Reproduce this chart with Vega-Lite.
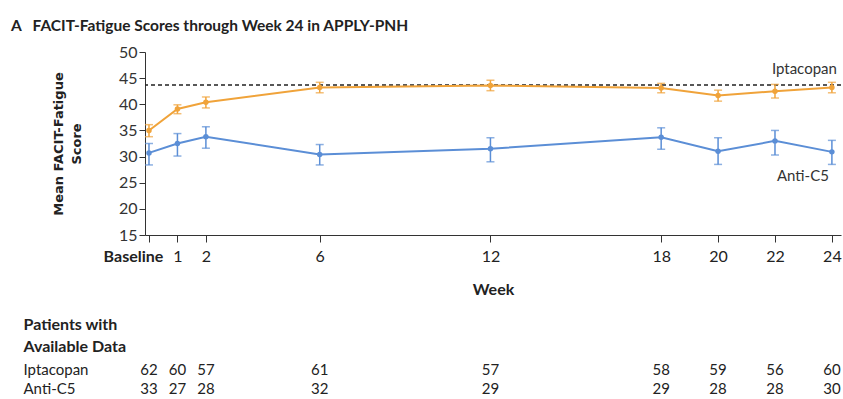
{
  "$schema": "https://vega.github.io/schema/vega-lite/v6.json",
  "autosize": {"type": "pad"},
  "padding": {"left": 11, "top": 18, "right": 0, "bottom": 0},
  "background": "white",
  "title": {"text": "A\u00a0\u00a0\u00a0FACIT-Fatigue Scores through Week 24 in APPLY-PNH", "anchor": "start", "frame": "bounds", "dx": -12, "fontSize": 15.5, "fontWeight": "bold", "font": "Lato", "color": "#222", "offset": 10},
  "config": {
    "view": {"stroke": null},
    "font": "Lato",
    "axisY": {
      "grid": false,
      "titleFont": "DejaVu Sans",
      "titleFontWeight": "bold",
      "titleFontSize": 13,
      "titleColor": "#222",
      "titlePadding": 35,
      "titleLineHeight": 18,
      "labelFontSize": 16,
      "labelColor": "#333",
      "labelPadding": 2,
      "tickSize": 6,
      "tickColor": "#333",
      "domainColor": "#333",
      "labelFlush": false,
      "labelOverlap": false
    }
  },
  "datasets": {
    "scores": [
      {"group": "Iptacopan", "week": 0, "mean": 35.0, "lo": 33.8, "hi": 36.1},
      {"group": "Iptacopan", "week": 1, "mean": 39.1, "lo": 38.2, "hi": 39.9},
      {"group": "Iptacopan", "week": 2, "mean": 40.4, "lo": 39.3, "hi": 41.4},
      {"group": "Iptacopan", "week": 6, "mean": 43.2, "lo": 42.2, "hi": 44.2},
      {"group": "Iptacopan", "week": 12, "mean": 43.6, "lo": 42.6, "hi": 44.6},
      {"group": "Iptacopan", "week": 18, "mean": 43.1, "lo": 42.2, "hi": 44.0},
      {"group": "Iptacopan", "week": 20, "mean": 41.7, "lo": 40.6, "hi": 42.7},
      {"group": "Iptacopan", "week": 22, "mean": 42.5, "lo": 41.2, "hi": 43.8},
      {"group": "Iptacopan", "week": 24, "mean": 43.2, "lo": 42.2, "hi": 44.2},
      {"group": "Anti-C5", "week": 0, "mean": 30.7, "lo": 28.4, "hi": 32.5},
      {"group": "Anti-C5", "week": 1, "mean": 32.5, "lo": 30.1, "hi": 34.4},
      {"group": "Anti-C5", "week": 2, "mean": 33.8, "lo": 31.6, "hi": 35.7},
      {"group": "Anti-C5", "week": 6, "mean": 30.4, "lo": 28.4, "hi": 32.3},
      {"group": "Anti-C5", "week": 12, "mean": 31.5, "lo": 29.0, "hi": 33.6},
      {"group": "Anti-C5", "week": 18, "mean": 33.7, "lo": 31.4, "hi": 35.5},
      {"group": "Anti-C5", "week": 20, "mean": 31.0, "lo": 28.5, "hi": 33.6},
      {"group": "Anti-C5", "week": 22, "mean": 33.0, "lo": 30.3, "hi": 35.0},
      {"group": "Anti-C5", "week": 24, "mean": 30.9, "lo": 28.5, "hi": 33.1}
    ],
    "counts": [
      {"group": "Iptacopan", "week": 0, "n": 62},
      {"group": "Iptacopan", "week": 1, "n": 60},
      {"group": "Iptacopan", "week": 2, "n": 57},
      {"group": "Iptacopan", "week": 6, "n": 61},
      {"group": "Iptacopan", "week": 12, "n": 57},
      {"group": "Iptacopan", "week": 18, "n": 58},
      {"group": "Iptacopan", "week": 20, "n": 59},
      {"group": "Iptacopan", "week": 22, "n": 56},
      {"group": "Iptacopan", "week": 24, "n": 60},
      {"group": "Anti-C5", "week": 0, "n": 33},
      {"group": "Anti-C5", "week": 1, "n": 27},
      {"group": "Anti-C5", "week": 2, "n": 28},
      {"group": "Anti-C5", "week": 6, "n": 32},
      {"group": "Anti-C5", "week": 12, "n": 29},
      {"group": "Anti-C5", "week": 18, "n": 29},
      {"group": "Anti-C5", "week": 20, "n": 28},
      {"group": "Anti-C5", "week": 22, "n": 28},
      {"group": "Anti-C5", "week": 24, "n": 30}
    ],
    "reference": [{"level": 43.7}]
  },
  "spacing": 19,
  "vconcat": [
    {
      "width": 696,
      "height": 183,
      "data": {"name": "scores"},
      "layer": [
        {
          "data": {"name": "reference"},
          "mark": {"type": "rule", "color": "#222", "strokeDash": [4, 3], "strokeWidth": 1.5},
          "encoding": {"y": {"field": "level", "type": "quantitative", "title": ["Mean FACIT-Fatigue", "Score"], "axis": {"values": [15, 20, 25, 30, 35, 40, 45, 50]}}}
        },
        {
          "mark": {"type": "errorbar", "ticks": {"size": 8, "thickness": 1.5}, "thickness": 1.5},
          "encoding": {
            "x": {"field": "week", "type": "quantitative"},
            "y": {"field": "lo", "type": "quantitative", "title": ["Mean FACIT-Fatigue", "Score"], "axis": {"values": [15, 20, 25, 30, 35, 40, 45, 50]}},
            "y2": {"field": "hi"},
            "color": {"field": "group", "type": "nominal", "legend": null, "scale": {"domain": ["Iptacopan", "Anti-C5"], "range": ["#F0A33A", "#5B8ED6"]}}
          }
        },
        {
          "mark": {"type": "line", "strokeWidth": 2, "point": {"size": 30, "filled": true}},
          "encoding": {
            "x": {
              "field": "week", "type": "quantitative",
              "scale": {"domain": [-0.14, 24.32], "nice": false, "zero": false},
              "axis": {
                "values": [0, 1, 2, 6, 12, 18, 20, 22, 24],
                "labelExpr": "datum.value == 0 ? 'Baseline' : datum.label",
                "labelFontWeight": {"condition": {"test": "datum.value == 0", "value": "bold"}, "value": "normal"},
                "labelOffset": {"condition": {"test": "datum.value == 0", "value": -16}, "value": 0},
                "grid": false,
                "title": "Week",
                "titleFontWeight": "bold",
                "titleFontSize": 16,
                "titleColor": "#222",
                "titlePadding": 17,
                "labelFontSize": 16,
                "labelColor": "#222",
                "labelPadding": 6,
                "tickSize": 7,
                "tickColor": "#333",
                "domainColor": "#333",
                "labelFlush": false,
                "labelOverlap": false
              }
            },
            "y": {
              "field": "mean", "type": "quantitative",
              "title": ["Mean FACIT-Fatigue", "Score"],
              "scale": {"domain": [15, 50], "nice": false, "zero": false},
              "axis": {"values": [15, 20, 25, 30, 35, 40, 45, 50]}
            },
            "color": {"field": "group", "type": "nominal", "legend": null, "scale": {"domain": ["Iptacopan", "Anti-C5"], "range": ["#F0A33A", "#5B8ED6"]}}
          }
        },
        {
          "transform": [{"filter": "datum.week == 24 && datum.group == 'Iptacopan'"}],
          "mark": {"type": "text", "align": "right", "dx": 5, "dy": -19, "fontSize": 15, "color": "#333"},
          "encoding": {
            "x": {"field": "week", "type": "quantitative"},
            "y": {"field": "mean", "type": "quantitative", "title": ["Mean FACIT-Fatigue", "Score"], "axis": {"values": [15, 20, 25, 30, 35, 40, 45, 50]}},
            "text": {"field": "group"}
          }
        },
        {
          "transform": [{"filter": "datum.week == 24 && datum.group == 'Anti-C5'"}],
          "mark": {"type": "text", "align": "right", "dx": -3, "dy": 24, "fontSize": 15, "color": "#333"},
          "encoding": {
            "x": {"field": "week", "type": "quantitative"},
            "y": {"field": "mean", "type": "quantitative", "title": ["Mean FACIT-Fatigue", "Score"], "axis": {"values": [15, 20, 25, 30, 35, 40, 45, 50]}},
            "text": {"field": "group"}
          }
        }
      ]
    },
    {
      "width": 696,
      "height": 38,
      "data": {"name": "counts"},
      "mark": {"type": "text", "fontSize": 15, "color": "#222"},
      "encoding": {
        "x": {"field": "week", "type": "quantitative", "scale": {"domain": [-0.14, 24.32], "nice": false, "zero": false}, "axis": null},
        "y": {
          "field": "group", "type": "nominal", "sort": ["Iptacopan", "Anti-C5"],
          "axis": {
            "domain": false, "ticks": false, "tickSize": 0,
            "labelAlign": "left", "labelPadding": 122, "labelFontSize": 15, "labelColor": "#222",
            "title": ["Patients with", "\u2002\u2002Available Data"],
            "titleAngle": 0, "titleAlign": "left", "titleBaseline": "top",
            "titleX": -122, "titleY": -44, "titleLineHeight": 22,
            "titleFont": "Lato",
            "titleFontSize": 16, "titleFontWeight": "bold", "titleColor": "#222"
          }
        },
        "text": {"field": "n", "type": "quantitative"}
      }
    }
  ]
}
